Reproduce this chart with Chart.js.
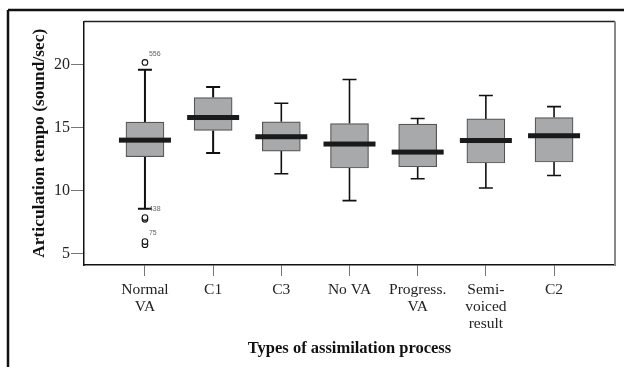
<!DOCTYPE html>
<html>
<head>
<meta charset="utf-8">
<script src="https://cdn.jsdelivr.net/npm/chart.js@4/dist/chart.umd.min.js"></script>
<style>
html,body{margin:0;padding:0;background:#fff;}
#wrap{width:624px;height:367px;position:relative;}
</style>
</head>
<body>
<div id="wrap"><canvas id="c" width="624" height="367"></canvas></div>
<script>
const categories = [["Normal","VA"],"C1","C3","No VA",["Progress.","VA"],["Semi-","voiced","result"],"C2"];
const whiskerLow  = [8.57, 12.99, 11.35, 9.21, 10.95, 10.21, 11.21];
const q1          = [12.70, 14.79, 13.15, 11.80, 11.90, 12.20, 12.28];
const medians     = [14.02, 15.82, 14.29, 13.71, 13.07, 13.99, 14.37];
const q3          = [15.45, 17.41, 15.48, 15.34, 15.29, 15.71, 15.82];
const whiskerHigh = [19.63, 18.25, 16.96, 18.84, 15.74, 17.57, 16.69];
const outlierCategory = [0, 0, 0, 0, 0];
const outlierValues   = [20.2, 7.72, 7.86, 5.70, 5.95];
const outlierLabels   = ["556", "", "438", "", "75"];
const yTicks = [5, 10, 15, 20];

const serif = "'Liberation Serif','Times New Roman',serif";

const boxPlugin = {
  id: 'boxParts',
  beforeDraw(chart) {
    const ctx = chart.ctx;
    ctx.save();
    ctx.strokeStyle = '#111';
    ctx.lineWidth = 2.5;
    ctx.beginPath();
    ctx.moveTo(8, 10); ctx.lineTo(624, 10);
    ctx.moveTo(8, 10); ctx.lineTo(8, 367);
    ctx.stroke();
    ctx.restore();
  },
  beforeDatasetsDraw(chart) {
    const ctx = chart.ctx, xs = chart.scales.x, ys = chart.scales.y;
    ctx.save();
    ctx.strokeStyle = '#111';
    categories.forEach((c, i) => {
      const x = xs.getPixelForValue(i);
      ctx.lineWidth = i < 2 ? 2 : 1.6;
      const yl = ys.getPixelForValue(whiskerLow[i]);
      const yh = ys.getPixelForValue(whiskerHigh[i]);
      const y1 = ys.getPixelForValue(q1[i]);
      const y3 = ys.getPixelForValue(q3[i]);
      ctx.beginPath();
      ctx.moveTo(x, yh); ctx.lineTo(x, y3);
      ctx.moveTo(x, y1); ctx.lineTo(x, yl);
      ctx.moveTo(x - 7, yh); ctx.lineTo(x + 7, yh);
      ctx.moveTo(x - 7, yl); ctx.lineTo(x + 7, yl);
      ctx.stroke();
    });
    ctx.restore();
  },
  afterDatasetsDraw(chart) {
    const ctx = chart.ctx, xs = chart.scales.x, ys = chart.scales.y;
    const a = chart.chartArea;
    ctx.save();
    ctx.fillStyle = '#1a1a1a';
    categories.forEach((c, i) => {
      const x = xs.getPixelForValue(i);
      const y = ys.getPixelForValue(medians[i]);
      ctx.fillRect(x - 26, y - 2.5, 52, 5);
    });
    ctx.fillStyle = '#666';
    ctx.font = "7px 'Liberation Sans',Arial,sans-serif";
    ctx.textBaseline = 'middle';
    ctx.textAlign = 'left';
    outlierLabels.forEach((t, k) => {
      if (!t) return;
      const x = xs.getPixelForValue(outlierCategory[k]);
      const y = ys.getPixelForValue(outlierValues[k]);
      ctx.fillText(t, x + 4, y - 8);
    });
    ctx.lineWidth = 1.5;
    ctx.strokeStyle = '#222';
    ctx.beginPath();
    ctx.moveTo(a.left, a.top); ctx.lineTo(a.right, a.top);
    ctx.stroke();
    ctx.strokeStyle = '#888';
    ctx.lineWidth = 2;
    ctx.beginPath();
    ctx.moveTo(a.right, a.top); ctx.lineTo(a.right, a.bottom);
    ctx.stroke();
    ctx.restore();
  }
};

new Chart(document.getElementById('c'), {
  type: 'bar',
  data: {
    datasets: [
      {
        type: 'bar',
        data: categories.map((c, i) => ({x: i, y: [q1[i], q3[i]]})),
        backgroundColor: '#a8a9ab',
        borderColor: '#555',
        borderWidth: 1.2,
        borderSkipped: false,
        barThickness: 38,
        order: 2
      },
      {
        type: 'scatter',
        data: outlierValues.map((v, k) => ({x: outlierCategory[k], y: v})),
        pointStyle: 'circle',
        pointRadius: 2.8,
        backgroundColor: '#fff',
        borderColor: '#111',
        borderWidth: 1.1,
        order: 1
      }
    ]
  },
  options: {
    responsive: false,
    animation: false,
    devicePixelRatio: 1,
    layout: {padding: {left: 0, top: 21.5, right: 9, bottom: 0}},
    plugins: {legend: {display: false}, tooltip: {enabled: false}},
    scales: {
      x: {
        type: 'linear',
        min: -0.894, max: 6.894,
        offset: false,
        afterBuildTicks: s => { s.ticks = categories.map((c, i) => ({value: i})); },
        afterFit: s => { s.height = 367 - 265; },
        ticks: {
          autoSkip: false, maxRotation: 0, minRotation: 0,
          color: '#222',
          font: {family: serif, size: 15.5, lineHeight: 1.12},
          padding: 5,
          callback: v => categories[v]
        },
        grid: {offset: false, drawOnChartArea: false, drawTicks: true, tickLength: 11, color: '#777', tickWidth: 1},
        border: {display: true, color: '#111', width: 1.5},
        title: {
          display: true,
          text: 'Types of assimilation process',
          color: '#111',
          font: {family: serif, size: 16.5, weight: 'bold', lineHeight: 1.2},
          padding: {top: 0, bottom: 8}
        }
      },
      y: {
        type: 'linear',
        min: 4.085, max: 23.46,
        afterBuildTicks: s => { s.ticks = yTicks.map(v => ({value: v})); },
        afterFit: s => { s.width = 84; },
        ticks: {
          color: '#222',
          font: {family: serif, size: 16},
          padding: 1
        },
        grid: {drawOnChartArea: false, drawTicks: true, tickLength: 13, color: '#777', tickWidth: 1},
        border: {display: true, color: '#111', width: 1.5},
        title: {
          display: true,
          text: 'Articulation tempo (sound/sec)',
          color: '#111',
          font: {family: serif, size: 17.4, weight: 'bold', lineHeight: 1.2},
          padding: {top: 29, bottom: 0}
        }
      }
    }
  },
  plugins: [boxPlugin]
});
</script>
</body>
</html>
